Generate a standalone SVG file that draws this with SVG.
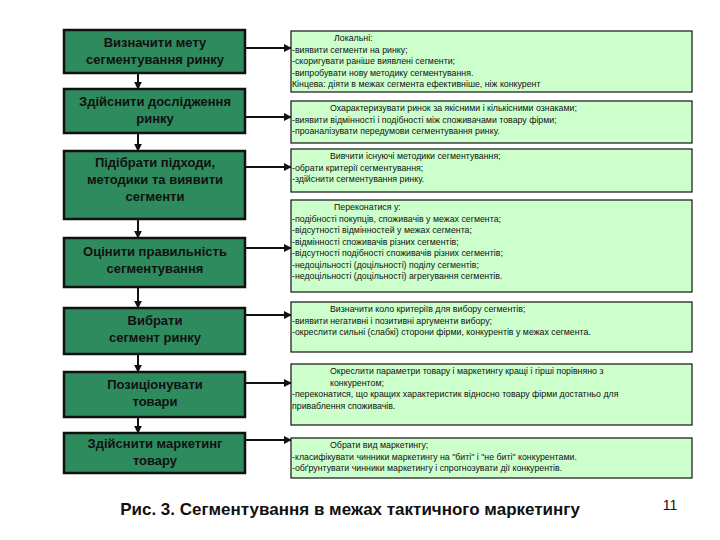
<svg xmlns="http://www.w3.org/2000/svg" width="720" height="540" viewBox="0 0 720 540">
<style>
.l{fill:#2e8b5e;stroke:#111;stroke-width:2.5}
.r{fill:#ccffcc;stroke:#111;stroke-width:1.2}
.lt{font-family:"Liberation Sans",Arial,sans-serif;font-weight:bold;font-size:13px;fill:#111;text-anchor:middle}
.rt{font-family:"Liberation Sans",Arial,sans-serif;font-size:8.8px;fill:#111}
.c{stroke:#111;stroke-width:2;fill:none}
</style>
<defs><marker id="a" viewBox="0 0 10 10" refX="9" refY="5" markerWidth="4" markerHeight="4" orient="auto"><path d="M0,0L10,5L0,10z" fill="#111"/></marker></defs>
<rect width="720" height="540" fill="#fff"/>
<g id="connectors">
<path class="c" marker-end="url(#a)" d="M138,73V89"/>
<path class="c" marker-end="url(#a)" d="M138,133V151"/>
<path class="c" marker-end="url(#a)" d="M138,219V238"/>
<path class="c" marker-end="url(#a)" d="M138,287V308"/>
<path class="c" marker-end="url(#a)" d="M138,354V372"/>
<path class="c" marker-end="url(#a)" d="M138,417V433"/>
<path class="c" marker-end="url(#a)" d="M245,48H291"/>
<path class="c" marker-end="url(#a)" d="M245,117H291"/>
<path class="c" marker-end="url(#a)" d="M245,167H291"/>
<path class="c" marker-end="url(#a)" d="M245,248H291"/>
<path class="c" marker-end="url(#a)" d="M245,315H291"/>
<path class="c" marker-end="url(#a)" d="M245,383H291"/>
<path class="c" marker-end="url(#a)" d="M245,440H291"/>
</g>
<g id="n1"><rect class="l" x="64" y="30" width="181" height="43"/><text class="lt" x="155" y="47">Визначити мету</text><text class="lt" x="155" y="64">сегментування ринку</text></g>
<g id="n2"><rect class="l" x="64" y="89" width="181" height="44"/><text class="lt" x="155" y="106">Здійснити дослідження</text><text class="lt" x="155" y="123">ринку</text></g>
<g id="n3"><rect class="l" x="64" y="151" width="181" height="68"/><text class="lt" x="155" y="167">Підібрати підходи,</text><text class="lt" x="155" y="184">методики та виявити</text><text class="lt" x="155" y="201">сегменти</text></g>
<g id="n4"><rect class="l" x="64" y="238" width="181" height="49"/><text class="lt" x="155" y="256">Оцінити правильність</text><text class="lt" x="155" y="273">сегментування</text></g>
<g id="n5"><rect class="l" x="64" y="308" width="181" height="46"/><text class="lt" x="155" y="325">Вибрати</text><text class="lt" x="155" y="342">сегмент ринку</text></g>
<g id="n6"><rect class="l" x="64" y="372" width="181" height="45"/><text class="lt" x="155" y="389">Позиціонувати</text><text class="lt" x="155" y="406">товари</text></g>
<g id="n7"><rect class="l" x="64" y="433" width="181" height="40"/><text class="lt" x="155" y="448">Здійснити маркетинг</text><text class="lt" x="155" y="465">товару</text></g>
<g id="r1"><rect class="r" x="291" y="31" width="401" height="61"/><text class="rt" x="291" y="41"><tspan x="334">Локальні:</tspan><tspan x="292" dy="11.5">-виявити сегменти на ринку;</tspan><tspan x="292" dy="11.5">-скоригувати раніше виявлені сегменти;</tspan><tspan x="292" dy="11.5">-випробувати нову методику сегментування.</tspan><tspan x="292" dy="11.5">Кінцева: діяти в межах сегмента ефективніше, ніж конкурент</tspan></text></g>
<g id="r2"><rect class="r" x="291" y="101" width="401" height="42"/><text class="rt" x="291" y="111"><tspan x="330">Охарактеризувати ринок за якісними і кількісними ознаками;</tspan><tspan x="292" dy="11.5">-виявити відмінності і подібності між споживачами  товару фірми;</tspan><tspan x="292" dy="11.5">-проаналізувати передумови сегментування ринку.</tspan></text></g>
<g id="r3"><rect class="r" x="291" y="149" width="401" height="43"/><text class="rt" x="291" y="159"><tspan x="330">Вивчити існуючі методики сегментування;</tspan><tspan x="292" dy="11.5">-обрати критерії сегментування;</tspan><tspan x="292" dy="11.5">-здійснити сегментування ринку.</tspan></text></g>
<g id="r4"><rect class="r" x="291" y="200" width="401" height="92"/><text class="rt" x="291" y="210"><tspan x="334">Переконатися у:</tspan><tspan x="292" dy="11.5">-подібності покупців, споживачів у межах сегмента;</tspan><tspan x="292" dy="11.5">-відсутності відмінностей у межах сегмента;</tspan><tspan x="292" dy="11.5">-відмінності споживачів різних сегментів;</tspan><tspan x="292" dy="11.5">-відсутності подібності споживачів різних сегментів;</tspan><tspan x="292" dy="11.5">-недоцільності (доцільності) поділу сегментів;</tspan><tspan x="292" dy="11.5">-недоцільності (доцільності) агрегування сегментів.</tspan></text></g>
<g id="r5"><rect class="r" x="291" y="302" width="401" height="50"/><text class="rt" x="291" y="312"><tspan x="330">Визначити коло критеріїв для вибору сегментів;</tspan><tspan x="292" dy="11.5">-виявити негативні і позитивні аргументи вибору;</tspan><tspan x="292" dy="11.5">-окреслити сильні (слабкі) сторони фірми, конкурентів у межах сегмента.</tspan></text></g>
<g id="r6"><rect class="r" x="291" y="364" width="401" height="61"/><text class="rt" x="291" y="374"><tspan x="330">Окреслити параметри товару і маркетингу кращі і гірші порівняно з</tspan><tspan x="330" dy="11.5">конкурентом;</tspan><tspan x="292" dy="11.5">-переконатися, що кращих характеристик відносно товару фірми достатньо для</tspan><tspan x="292" dy="11.5">приваблення споживачів.</tspan></text></g>
<g id="r7"><rect class="r" x="291" y="438" width="401" height="40"/><text class="rt" x="291" y="448"><tspan x="330">Обрати вид маркетингу;</tspan><tspan x="292" dy="11.5">-класифікувати чинники маркетингу на "биті" і "не биті" конкурентами.</tspan><tspan x="292" dy="11.5">-обґрунтувати чинники маркетингу і спрогнозувати дії конкурентів.</tspan></text></g>
<text x="350" y="515" font-family="Liberation Sans,Arial,sans-serif" font-weight="bold" font-size="17" text-anchor="middle" fill="#111">Рис. 3. Сегментування в межах тактичного маркетингу</text>
<text x="670" y="510" font-family="Liberation Sans,Arial,sans-serif" font-size="14" text-anchor="middle" fill="#111">11</text>
</svg>
